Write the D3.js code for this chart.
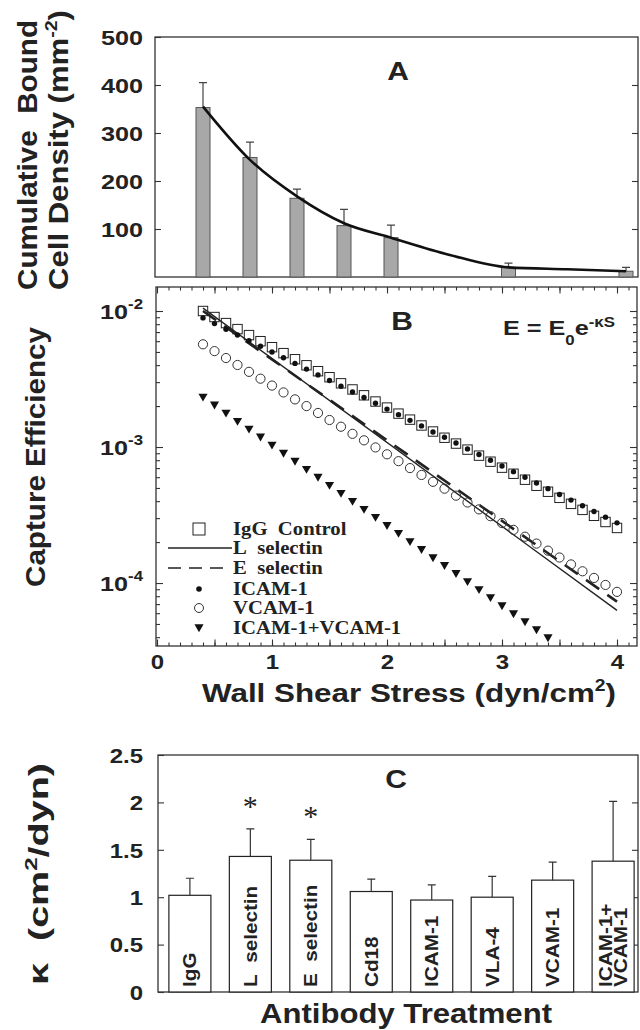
<!DOCTYPE html>
<html>
<head>
<meta charset="utf-8">
<script src="https://cdn.jsdelivr.net/npm/d3@7"></script>
<style>
  body { margin: 0; background: #fff; }
  svg { display: block; }
  text { font-family: "Liberation Sans", Arial, Helvetica, sans-serif; font-weight: bold; fill: #222; }
  .serif { font-family: "Liberation Serif", "Times New Roman", serif; }
  .frame { fill: none; stroke: #333; stroke-width: 1.3; }
  .axis line { stroke: #333; stroke-width: 1.1; }
  .axis path { display: none; }
</style>
</head>
<body>
<svg id="chart" width="640" height="1030"></svg>
<script>
// ---- Panel A : cumulative bound cell density ----
const shearA = [0.4, 0.8, 1.2, 1.6, 2.0, 3.0, 4.0];
const densityA = [353, 249, 164, 107, 82, 20, 12];
const densityErrA = [52, 32, 19, 34, 26, 9, 8];
const fitShearA = [0.4, 0.8, 1.2, 1.6, 2.0, 2.5, 3.0, 3.5, 4.0];
const fitDensityA = [355, 244, 168, 112, 82, 46, 20, 16, 12];
const densityTicks = [100, 200, 300, 400, 500];

// ---- Panel B : capture efficiency vs wall shear stress ----
const shearB = [0.4, 0.5, 0.6, 0.7, 0.8, 0.9, 1.0, 1.1, 1.2, 1.3, 1.4, 1.5, 1.6,
  1.7, 1.8, 1.9, 2.0, 2.1, 2.2, 2.3, 2.4, 2.5, 2.6, 2.7, 2.8, 2.9, 3.0, 3.1,
  3.2, 3.3, 3.4, 3.5, 3.6, 3.7, 3.8, 3.9, 4.0];
const iggControl = [1.00e-2, 9.03e-3, 8.15e-3, 7.36e-3, 6.65e-3, 6.00e-3, 5.42e-3,
  4.90e-3, 4.42e-3, 3.99e-3, 3.61e-3, 3.26e-3, 2.94e-3, 2.65e-3, 2.40e-3, 2.16e-3,
  1.95e-3, 1.76e-3, 1.59e-3, 1.44e-3, 1.30e-3, 1.17e-3, 1.06e-3, 9.57e-4, 8.64e-4,
  7.80e-4, 7.05e-4, 6.36e-4, 5.75e-4, 5.19e-4, 4.69e-4, 4.23e-4, 3.82e-4, 3.45e-4,
  3.12e-4, 2.81e-4, 2.54e-4];
const icam1 = [8.90e-3, 8.08e-3, 7.34e-3, 6.67e-3, 6.05e-3, 5.50e-3, 4.99e-3,
  4.53e-3, 4.12e-3, 3.74e-3, 3.39e-3, 3.08e-3, 2.80e-3, 2.54e-3, 2.31e-3, 2.10e-3,
  1.90e-3, 1.73e-3, 1.57e-3, 1.43e-3, 1.29e-3, 1.18e-3, 1.07e-3, 9.69e-4, 8.80e-4,
  7.99e-4, 7.26e-4, 6.59e-4, 5.99e-4, 5.44e-4, 4.94e-4, 4.48e-4, 4.07e-4, 3.70e-4,
  3.36e-4, 3.05e-4, 2.77e-4];
const vcam1 = [5.69e-3, 5.07e-3, 4.51e-3, 4.01e-3, 3.57e-3, 3.18e-3, 2.83e-3,
  2.52e-3, 2.24e-3, 2.00e-3, 1.78e-3, 1.58e-3, 1.41e-3, 1.25e-3, 1.12e-3, 9.93e-4,
  8.84e-4, 7.87e-4, 7.00e-4, 6.23e-4, 5.55e-4, 4.94e-4, 4.39e-4, 3.91e-4, 3.48e-4,
  3.10e-4, 2.76e-4, 2.46e-4, 2.19e-4, 1.95e-4, 1.73e-4, 1.54e-4, 1.37e-4, 1.22e-4,
  1.09e-4, 9.68e-5, 8.61e-5];
const icamVcam = [2.32e-3, 2.03e-3, 1.77e-3, 1.54e-3, 1.35e-3, 1.18e-3, 1.03e-3,
  8.97e-4, 7.83e-4, 6.83e-4, 5.97e-4, 5.21e-4, 4.55e-4, 3.97e-4, 3.47e-4, 3.03e-4,
  2.64e-4, 2.31e-4, 2.01e-4, 1.76e-4, 1.53e-4, 1.34e-4, 1.17e-4, 1.02e-4, 8.91e-5,
  7.78e-5, 6.79e-5, 5.93e-5, 5.18e-5, 4.52e-5, 3.95e-5];
const lSelectinS = [0.4, 4.0];
const lSelectinE = [1.05e-2, 6.3e-5];
const eSelectinS = [0.4, 4.0];
const eSelectinE = [1.0e-2, 7.3e-5];
const legendNames = ['IgG\u00a0\u00a0Control', 'L\u00a0\u00a0selectin', 'E\u00a0\u00a0selectin',
  'ICAM-1', 'VCAM-1', 'ICAM-1+VCAM-1'];

// ---- Panel C : kappa per antibody ----
const antibodies = ['IgG', 'L\u00a0\u00a0selectin', 'E\u00a0\u00a0selectin', 'Cd18', 'ICAM-1', 'VLA-4', 'VCAM-1', 'ICAM-1+|VCAM-1'];
const kappa = [1.02, 1.43, 1.39, 1.06, 0.97, 1.00, 1.18, 1.38];
const kappaErr = [0.18, 0.29, 0.22, 0.13, 0.16, 0.22, 0.19, 0.63];
const significant = [false, true, true, false, false, false, false, false];
const kappaTicks = [0, 0.5, 1, 1.5, 2, 2.5];

const svg = d3.select('#chart');
const STRETCH = 1.2;

// widen text along its run, the figure's lettering is wide
function widen(sel, k) {
  sel.each(function() {
    const w = this.getComputedTextLength();
    d3.select(this).attr('textLength', w * k).attr('lengthAdjust', 'spacingAndGlyphs');
  });
}

/*------------------------------------------------------*/
/* Panel A */
const A = { left: 155, right: 638, top: 37, bottom: 277 };
const xA = d3.scaleLinear().domain([0.4, 4.0]).range([203, 626]);
const yA = d3.scaleLinear().domain([0, 500]).range([A.bottom, A.top]);

const gA = svg.append('g');
gA.append('rect').attr('class', 'frame')
  .attr('x', A.left).attr('y', A.top)
  .attr('width', A.right - A.left).attr('height', A.bottom - A.top);

const axA = gA.append('g').attr('class', 'axis')
  .attr('transform', 'translate(' + A.left + ',0)')
  .call(d3.axisLeft(yA).tickValues(densityTicks).tickSizeInner(-6).tickSizeOuter(0).tickPadding(12));
axA.selectAll('text').style('font-size', '21px').attr('dy', '0.36em');
widen(axA.selectAll('text'), STRETCH);
gA.append('g').attr('class', 'axis')
  .attr('transform', 'translate(' + A.right + ',0)')
  .call(d3.axisRight(yA).tickValues(densityTicks.slice(0, 4)).tickSizeInner(-6).tickSizeOuter(0).tickFormat(''));

gA.selectAll('.barA')
  .data(shearA)
  .enter().append('rect')
  .attr('class', 'barA')
  .attr('x', (d) => xA(d) - 7)
  .attr('width', 14)
  .attr('y', (d, i) => yA(densityA[i]))
  .attr('height', (d, i) => yA(0) - yA(densityA[i]))
  .attr('fill', '#a8a8a8')
  .attr('stroke', '#555')
  .attr('stroke-width', 1);

gA.selectAll('.errA')
  .data(shearA)
  .enter().append('path')
  .attr('class', 'errA')
  .attr('d', (d, i) => {
    const x = xA(d), y0 = yA(densityA[i]), y1 = yA(densityA[i] + densityErrA[i]);
    return 'M' + x + ',' + y0 + 'V' + y1 + 'M' + (x - 4) + ',' + y1 + 'H' + (x + 4);
  })
  .attr('stroke', '#444').attr('stroke-width', 1.2).attr('fill', 'none');

gA.append('path')
  .datum(fitShearA.map((s, i) => [s, fitDensityA[i]]))
  .attr('d', d3.line().x((d) => xA(d[0])).y((d) => yA(d[1])).curve(d3.curveMonotoneX))
  .attr('fill', 'none').attr('stroke', '#111').attr('stroke-width', 2.6);

const labA = gA.append('text').attr('x', 398).attr('y', 80).attr('text-anchor', 'middle')
  .style('font-size', '25px').text('A');
widen(labA, STRETCH);

/*------------------------------------------------------*/
/* Panel B */
const B = { left: 156, right: 637, top: 287, bottom: 646 };
const xB = d3.scaleLinear().domain([0, 4]).range([157, 617]);
const yB = d3.scaleLog().domain([Math.pow(10, -1.8235), Math.pow(10, -4.463)]).range([B.top, B.bottom]);

const gB = svg.append('g');
gB.append('clipPath').attr('id', 'clipB').append('rect')
  .attr('x', B.left).attr('y', B.top).attr('width', B.right - B.left).attr('height', B.bottom - B.top);
gB.append('rect').attr('class', 'frame')
  .attr('x', B.left).attr('y', B.top)
  .attr('width', B.right - B.left).attr('height', B.bottom - B.top);

const minorX = d3.range(0, 42).map((i) => i / 10);
const majorX = d3.range(0, 9).map((i) => i / 2);
[['bottom', B.bottom, d3.axisBottom], ['top', B.top, d3.axisTop]].forEach(([side, yPos, axisFn]) => {
  gB.append('g').attr('class', 'axis').attr('transform', 'translate(0,' + yPos + ')')
    .call(axisFn(xB).tickValues(minorX).tickSizeInner(-3.5).tickSizeOuter(0).tickFormat(''));
  const major = gB.append('g').attr('class', 'axis').attr('transform', 'translate(0,' + yPos + ')')
    .call(axisFn(xB).tickValues(majorX).tickSizeInner(-6.5).tickSizeOuter(0).tickPadding(9)
      .tickFormat((d) => side === 'bottom' && Number.isInteger(d) ? d : ''));
  major.selectAll('text').style('font-size', '20px');
  if (side === 'bottom') widen(major.selectAll('text').filter(function() { return this.textContent; }), STRETCH);
});

const logTicks = [];
[-5, -4, -3, -2].forEach((e) => {
  for (let m = 1; m <= 9; m++) {
    const v = m * Math.pow(10, e);
    if (v <= yB.domain()[0] && v >= yB.domain()[1]) logTicks.push(v);
  }
});
const isDecade = (v) => Math.abs(Math.log10(v) - Math.round(Math.log10(v))) < 1e-6;
[[B.left, d3.axisLeft], [B.right, d3.axisRight]].forEach(([xPos, axisFn]) => {
  gB.append('g').attr('class', 'axis').attr('transform', 'translate(' + xPos + ',0)')
    .call(axisFn(yB).tickValues(logTicks.filter((v) => !isDecade(v))).tickSizeInner(-4).tickSizeOuter(0).tickFormat(''));
  gB.append('g').attr('class', 'axis').attr('transform', 'translate(' + xPos + ',0)')
    .call(axisFn(yB).tickValues(logTicks.filter(isDecade)).tickSizeInner(-7).tickSizeOuter(0).tickFormat(''));
});

// decade labels 10^-n
const decLabels = gB.selectAll('.declabel')
  .data(logTicks.filter(isDecade))
  .enter().append('text')
  .attr('class', 'declabel')
  .attr('x', 143)
  .attr('y', (d) => yB(d) + 8)
  .attr('text-anchor', 'end')
  .style('font-size', '21px');
decLabels.append('tspan').text('10');
decLabels.append('tspan').attr('dy', -10).style('font-size', '14px')
  .text((d) => '-' + Math.round(-Math.log10(d)));
widen(decLabels, STRETCH);

const plotB = gB.append('g').attr('clip-path', 'url(#clipB)');
const lineB = d3.line().x((d) => xB(d[0])).y((d) => yB(d[1]));

plotB.append('path')
  .datum(lSelectinS.map((s, i) => [s, lSelectinE[i]]))
  .attr('d', lineB).attr('fill', 'none').attr('stroke', '#222').attr('stroke-width', 1.4);
plotB.append('path')
  .datum(eSelectinS.map((s, i) => [s, eSelectinE[i]]))
  .attr('d', lineB).attr('fill', 'none').attr('stroke', '#222').attr('stroke-width', 2.6)
  .attr('stroke-dasharray', '16,10');

plotB.selectAll('.sq')
  .data(shearB)
  .enter().append('rect')
  .attr('class', 'sq')
  .attr('x', (d) => xB(d) - 4.7)
  .attr('y', (d, i) => yB(iggControl[i]) - 4.7)
  .attr('width', 9.4).attr('height', 9.4)
  .attr('fill', 'none').attr('stroke', '#222').attr('stroke-width', 1);

plotB.selectAll('.oc')
  .data(shearB)
  .enter().append('circle')
  .attr('class', 'oc')
  .attr('cx', (d) => xB(d))
  .attr('cy', (d, i) => yB(vcam1[i]))
  .attr('r', 4.6)
  .attr('fill', 'none').attr('stroke', '#333').attr('stroke-width', 1);

plotB.selectAll('.dot')
  .data(shearB)
  .enter().append('circle')
  .attr('class', 'dot')
  .attr('cx', (d) => xB(d))
  .attr('cy', (d, i) => yB(icam1[i]))
  .attr('r', 2.7)
  .attr('fill', '#111');

const tri = d3.symbol().type(d3.symbolTriangle).size(36);
plotB.selectAll('.tri')
  .data(icamVcam)
  .enter().append('path')
  .attr('class', 'tri')
  .attr('d', tri)
  .attr('transform', (d, i) => 'translate(' + xB(shearB[i]) + ',' + (yB(d) - 1) + ') rotate(180)')
  .attr('fill', '#111');

const labB = gB.append('text').attr('x', 402).attr('y', 330).attr('text-anchor', 'middle')
  .style('font-size', '25px').text('B');
widen(labB, STRETCH);

const formula = gB.append('text').attr('x', 503).attr('y', 335).style('font-size', '21px');
formula.append('tspan').text('E = E');
formula.append('tspan').attr('dy', 10).style('font-size', '14px').text('0');
formula.append('tspan').attr('dy', -10).text('e');
formula.append('tspan').attr('dy', -8).style('font-size', '14px').text('-κS');
widen(formula, STRETCH);

// legend
const legY = [529, 548, 568, 589, 608, 628];
const leg = gB.append('g');
leg.selectAll('.legtext')
  .data(legendNames)
  .enter().append('text')
  .attr('class', 'legtext serif')
  .attr('x', 233)
  .attr('y', (d, i) => legY[i] + 6)
  .style('font-size', '18px')
  .text((d) => d);
widen(leg.selectAll('.legtext'), 1.15);
leg.append('rect').attr('x', 199 - 6).attr('y', legY[0] - 6).attr('width', 12).attr('height', 12)
  .attr('fill', 'none').attr('stroke', '#222').attr('stroke-width', 1);
leg.append('line').attr('x1', 168).attr('x2', 232).attr('y1', legY[1]).attr('y2', legY[1])
  .attr('stroke', '#222').attr('stroke-width', 1.4);
leg.append('line').attr('x1', 168).attr('x2', 230).attr('y1', legY[2]).attr('y2', legY[2])
  .attr('stroke', '#222').attr('stroke-width', 1.6).attr('stroke-dasharray', '13,8');
leg.append('circle').attr('cx', 199).attr('cy', legY[3]).attr('r', 2.8).attr('fill', '#111');
leg.append('circle').attr('cx', 199).attr('cy', legY[4]).attr('r', 4.5)
  .attr('fill', 'none').attr('stroke', '#333').attr('stroke-width', 1);
leg.append('path').attr('d', tri)
  .attr('transform', 'translate(199,' + (legY[5] - 1) + ') rotate(180)').attr('fill', '#111');

/*------------------------------------------------------*/
/* Panel C */
const C = { left: 158, right: 638, top: 755, bottom: 992 };
const xC = d3.scaleBand().domain(antibodies).range([158, 645]).paddingInner(0.305).paddingOuter(0.18);
const yC = d3.scaleLinear().domain([0, 2.5]).range([C.bottom, C.top]);

const gC = svg.append('g');
gC.append('rect').attr('class', 'frame')
  .attr('x', C.left).attr('y', C.top)
  .attr('width', C.right - C.left).attr('height', C.bottom - C.top);
const axC = gC.append('g').attr('class', 'axis')
  .attr('transform', 'translate(' + C.left + ',0)')
  .call(d3.axisLeft(yC).tickValues(kappaTicks).tickSizeInner(-6).tickSizeOuter(0).tickPadding(15)
    .tickFormat((d) => d));
axC.selectAll('text').style('font-size', '20px').attr('dy', '0.36em');
widen(axC.selectAll('text'), STRETCH);
gC.append('g').attr('class', 'axis')
  .attr('transform', 'translate(' + C.right + ',0)')
  .call(d3.axisRight(yC).tickValues(kappaTicks.slice(1, 5)).tickSizeInner(-6).tickSizeOuter(0).tickFormat(''));

gC.selectAll('.barC')
  .data(antibodies)
  .enter().append('rect')
  .attr('class', 'barC')
  .attr('x', (d) => xC(d))
  .attr('width', xC.bandwidth())
  .attr('y', (d, i) => yC(kappa[i]))
  .attr('height', (d, i) => yC(0) - yC(kappa[i]))
  .attr('fill', '#fff').attr('stroke', '#222').attr('stroke-width', 1.2);

gC.selectAll('.errC')
  .data(antibodies)
  .enter().append('path')
  .attr('class', 'errC')
  .attr('d', (d, i) => {
    const x = xC(d) + xC.bandwidth() / 2, y0 = yC(kappa[i]), y1 = yC(kappa[i] + kappaErr[i]);
    return 'M' + x + ',' + y0 + 'V' + y1 + 'M' + (x - 4) + ',' + y1 + 'H' + (x + 4);
  })
  .attr('stroke', '#333').attr('stroke-width', 1.2).attr('fill', 'none');

gC.selectAll('.star')
  .data(antibodies.filter((d, i) => significant[i]))
  .enter().append('text')
  .attr('class', 'star serif')
  .attr('x', (d) => xC(d) + xC.bandwidth() / 2)
  .attr('y', (d) => { const i = antibodies.indexOf(d); return yC(kappa[i] + kappaErr[i]) - 13; })
  .attr('text-anchor', 'middle')
  .style('font-size', '30px').style('font-weight', 'normal')
  .text('*');

// rotated labels inside the bars
antibodies.forEach((name, i) => {
  const lines = name.split('|');
  const cx = xC(name) + xC.bandwidth() / 2;
  lines.forEach((ln, j) => {
    const t = gC.append('text')
      .attr('transform', 'translate(' + (cx + (j - (lines.length - 1) / 2) * 15) + ',987) rotate(-90)')
      .attr('dy', '0.36em')
      .style('font-size', '18px')
      .text(ln);
    widen(t, 1.15);
  });
});

const labC = gC.append('text').attr('x', 396).attr('y', 788).attr('text-anchor', 'middle')
  .style('font-size', '25px').text('C');
widen(labC, STRETCH);

/*------------------------------------------------------*/
/* Axis titles */
function vTitle(x, y, size, len, build) {
  const t = svg.append('text')
    .attr('transform', 'translate(' + x + ',' + y + ') rotate(-90)')
    .attr('text-anchor', 'middle')
    .style('font-size', size + 'px');
  build(t);
  t.attr('textLength', len).attr('lengthAdjust', 'spacingAndGlyphs');
  return t;
}
vTitle(37, 155, 27, 270, (t) => t.text('Cumulative\u00a0\u00a0Bound'));
vTitle(68, 150, 27, 280, (t) => {
  t.append('tspan').text('Cell Density (mm');
  t.append('tspan').attr('dy', -11).style('font-size', '17px').text('-2');
  t.append('tspan').attr('dy', 11).text(')');
});
vTitle(45, 457, 27, 260, (t) => t.text('Capture Efficiency'));
vTitle(48, 874, 28, 222, (t) => {
  t.append('tspan').text('κ\u00a0\u00a0(cm');
  t.append('tspan').attr('dy', -11).style('font-size', '17px').text('2');
  t.append('tspan').attr('dy', 11).text('/dyn)');
});

const xt = svg.append('text').attr('x', 409).attr('y', 702).attr('text-anchor', 'middle')
  .style('font-size', '26px');
xt.append('tspan').text('Wall Shear Stress (dyn/cm');
xt.append('tspan').attr('dy', -11).style('font-size', '16px').text('2');
xt.append('tspan').attr('dy', 11).text(')');
xt.attr('textLength', 414).attr('lengthAdjust', 'spacingAndGlyphs');

svg.append('text').attr('x', 406).attr('y', 1023).attr('text-anchor', 'middle')
  .style('font-size', '27px').attr('textLength', 292).attr('lengthAdjust', 'spacingAndGlyphs')
  .text('Antibody Treatment');
</script>
</body>
</html>
